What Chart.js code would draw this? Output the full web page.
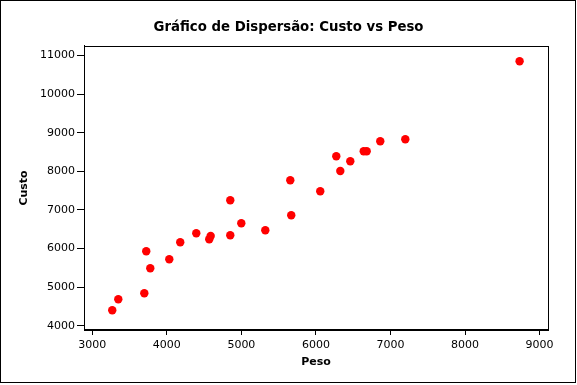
<!DOCTYPE html>
<html>
<head>
<meta charset="utf-8">
<script src="https://cdn.jsdelivr.net/npm/chart.js@4/dist/chart.umd.min.js"></script>
<style>
  html, body { margin: 0; padding: 0; background: #fff; }
  #wrap { width: 577px; height: 385px; }
</style>
</head>
<body>
<div id="wrap"><canvas id="dispersao" width="577" height="385"></canvas></div>
<script>
// Peso (x) e Custo (y)
const peso  = [3268, 3349, 3698, 3724, 3778, 4033, 4180, 4395, 4569, 4588, 4851, 4851, 4999,
               5321, 5656, 5669, 6058, 6273, 6327, 6461, 6641, 6681, 6863, 7199, 8732];
const custo = [4400, 4685, 4839, 5927, 5487, 5720, 6161, 6394, 6238, 6324, 7249, 6342, 6653,
               6472, 7767, 6860, 7482, 8389, 8008, 8259, 8518, 8518, 8777, 8829, 10850];
const xTicks = [3000, 4000, 5000, 6000, 7000, 8000, 9000];
const yTicks = [4000, 5000, 6000, 7000, 8000, 9000, 10000, 11000];

const tickFont = { family: 'DejaVu Sans', size: 11 };
const boldFont = { family: 'DejaVu Sans', size: 11, weight: 'bold' };

// moldura da área do gráfico e borda externa
const frames = {
    id: 'frames',
    afterDraw(chart) {
        const { ctx, chartArea: a } = chart;
        ctx.save();
        ctx.strokeStyle = '#000';
        ctx.lineWidth = 1;
        ctx.strokeRect(Math.round(a.left) + 0.5, Math.round(a.top) + 0.5,
                       Math.round(a.right - a.left), Math.round(a.bottom - a.top));
        ctx.strokeRect(0.5, 0.5, 575, 382);
        ctx.restore();
    }
};

new Chart(document.getElementById('dispersao'), {
    type: 'scatter',
    data: {
        datasets: [{
            label: 'Custo vs Peso',
            data: peso.map((p, i) => ({ x: p, y: custo[i] })),
            backgroundColor: '#ff0000',
            borderColor: '#ff0000',
            borderWidth: 0,
            pointRadius: 4.2,
            pointHoverRadius: 4.2
        }]
    },
    options: {
        responsive: false,
        animation: false,
        layout: { padding: 0 },
        plugins: {
            legend: { display: false },
            tooltip: { enabled: false },
            title: {
                display: true,
                text: 'Gráfico de Dispersão: Custo vs Peso',
                color: '#000',
                font: { family: 'DejaVu Sans', size: 13.3, weight: 'bold' },
                padding: { top: 20, bottom: 10 }
            }
        },
        scales: {
            x: {
                type: 'linear',
                min: 2889,
                max: 9113,
                afterBuildTicks: axis => { axis.ticks = xTicks.map(v => ({ value: v })); },
                afterFit: axis => { axis.height = 55; },
                grid: { drawOnChartArea: false, color: '#000', tickLength: 5, tickWidth: 1 },
                border: { color: '#000', width: 1 },
                ticks: { color: '#000', font: tickFont, padding: 4, maxRotation: 0,
                         callback: v => String(v) },
                title: { display: true, text: 'Peso', color: '#000', font: boldFont,
                         padding: { top: 0, bottom: 16 } }
            },
            y: {
                type: 'linear',
                min: 3889,
                max: 11246,
                afterBuildTicks: axis => { axis.ticks = yTicks.map(v => ({ value: v })); },
                afterFit: axis => { axis.width = 84; },
                grid: { drawOnChartArea: false, color: '#000', tickLength: 7, tickWidth: 1 },
                border: { color: '#000', width: 1 },
                ticks: { color: '#000', font: tickFont, padding: 2,
                         callback: v => String(v) },
                title: { display: true, text: 'Custo', color: '#000', font: boldFont,
                         padding: { top: 18, bottom: 0 } }
            },
            // eixo vazio à direita, só para reservar a margem
            margemDireita: {
                type: 'linear',
                position: 'right',
                afterFit: axis => { axis.width = 29; },
                grid: { display: false },
                border: { display: false },
                ticks: { display: false }
            }
        }
    },
    plugins: [frames]
});
</script>
</body>
</html>
